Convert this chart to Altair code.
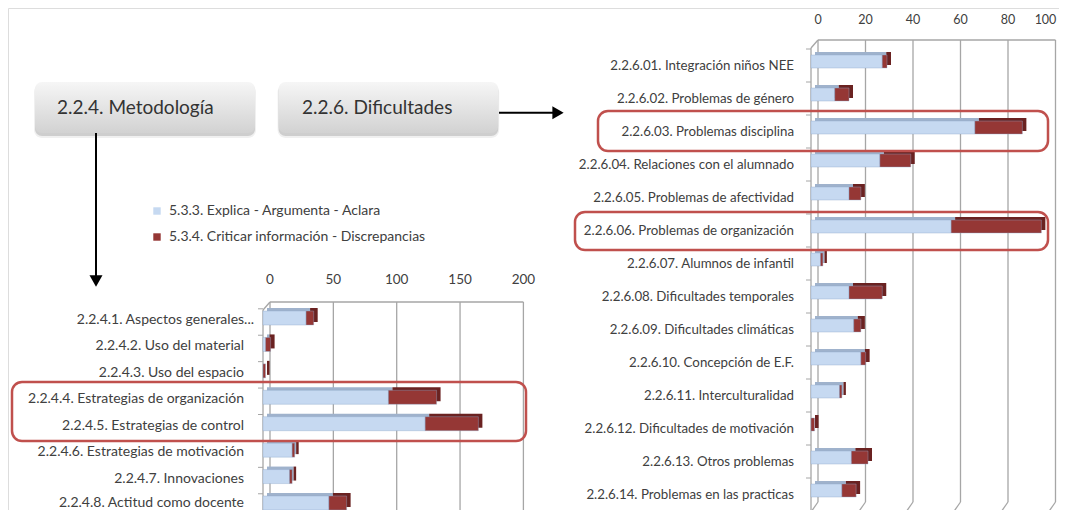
import altair as alt
import pandas as pd

# ---------------- data ----------------
left_categories = [
    "2.2.4.1. Aspectos generales...",
    "2.2.4.2. Uso del material",
    "2.2.4.3. Uso del espacio",
    "2.2.4.4. Estrategias de organización",
    "2.2.4.5. Estrategias de control",
    "2.2.4.6. Estrategias de motivación",
    "2.2.4.7. Innovaciones",
    "2.2.4.8. Actitud como docente",
]
left_explica = [34, 2, 0, 99, 128, 23, 21, 52]
left_criticar = [6, 4, 2, 38, 42, 2, 2, 14]

right_categories = [
    "2.2.6.01. Integración niños NEE",
    "2.2.6.02. Problemas de género",
    "2.2.6.03. Problemas disciplina",
    "2.2.6.04. Relaciones con el alumnado",
    "2.2.6.05. Problemas de afectividad",
    "2.2.6.06. Problemas de organización",
    "2.2.6.07. Alumnos de infantil",
    "2.2.6.08. Dificultades temporales",
    "2.2.6.09. Dificultades climáticas",
    "2.2.6.10. Concepción de E.F.",
    "2.2.6.11. Interculturalidad",
    "2.2.6.12. Dificultades de motivación",
    "2.2.6.13. Otros problemas",
    "2.2.6.14. Problemas en las practicas",
]
right_explica = [30, 10, 69, 29, 16, 59, 4, 16, 18, 21, 12, 0, 17, 13]
right_criticar = [2, 6, 20, 13, 5, 38, 1, 14, 3, 2, 1, 1.5, 7, 6]

series_names = ["5.3.3. Explica - Argumenta - Aclara",
                "5.3.4. Criticar información - Discrepancias"]
left_ticks = [0, 50, 100, 150, 200]
right_ticks = [0, 20, 40, 60, 80, 100]
box_titles = ["2.2.4. Metodología", "2.2.6. Dificultades"]

# ---------------- styles ----------------
FONT = "Lato"
TXT = "#404040"
FRONT = ["#c6d9f1", "#953735"]
SIDE = ["#9fb2cc", "#6a2221"]
GRID = "#a6a6a6"
HL = "#c0504d"
W, H = 1051, 502
DX, DY = 7, 8  # 3D depth of the walls


def segments(cats, a, b):
    rows = []
    for c, va, vb in zip(cats, a, b):
        if va > 0:
            rows.append(dict(cat=c, series=series_names[0], x0=0, x1=va, side=SIDE[0]))
        if vb > 0:
            rows.append(dict(cat=c, series=series_names[1], x0=va, x1=va + vb, side=SIDE[1]))
    return pd.DataFrame(rows)


one = pd.DataFrame({"a": [0]})
color_scale = alt.Scale(domain=series_names, range=FRONT)


def panel(cats, a, b, ticks, xdom, xrange, yrange, top, bottom, label_x,
          tick_label_y, size, label_size, tick_size, first_dx=0, label_dy=0,
          last_label_dy=0, last_tick_dx=0):
    xs = alt.Scale(domain=xdom, range=xrange, nice=False, zero=False)
    ys = alt.Scale(domain=cats, range=yrange, paddingInner=0, paddingOuter=0)
    seg = segments(cats, a, b)
    tdf = pd.DataFrame({"v": ticks, "i": list(range(len(ticks)))})
    last = len(ticks) - 1
    n = len(cats) - 1
    cdf = pd.DataFrame({"cat": cats, "i": list(range(len(cats)))})
    X = lambda f: alt.X(f, scale=xs, axis=None)
    Y = alt.Y("cat:N", scale=ys, axis=None, sort=None)
    x0 = xrange[0]
    layers = []
    # back-wall gridlines
    layers.append(alt.Chart(tdf).mark_rule(color=GRID, strokeWidth=1.3, xOffset=DX).encode(
        x=X("v:Q"), y=alt.value(top), y2=alt.value(bottom)))
    # floor slant
    layers.append(alt.Chart(tdf).mark_rule(color=GRID, strokeWidth=1.3, xOffset=DX, x2Offset=0).encode(
        x=X("v:Q"), x2="v:Q", y=alt.value(bottom), y2=alt.value(bottom + DY + 2)))
    # top edge of back wall
    layers.append(alt.Chart(one).mark_rule(color=GRID, strokeWidth=1.3).encode(
        x=alt.value(x0 + DX), x2=alt.value(xrange[1] + DX), y=alt.value(top)))
    # front-left wall edge + top slant
    layers.append(alt.Chart(one).mark_rule(color=GRID, strokeWidth=1.3).encode(
        x=alt.value(x0), y=alt.value(top + DY), y2=alt.value(bottom + DY + 2)))
    layers.append(alt.Chart(one).mark_rule(color=GRID, strokeWidth=1.3).encode(
        x=alt.value(x0), x2=alt.value(x0 + DX), y=alt.value(top + DY), y2=alt.value(top)))
    # category ticks
    layers.append(alt.Chart(cdf).mark_rule(color=GRID, strokeWidth=1).encode(
        y=alt.Y("cat:N", scale=ys, axis=None, sort=None, bandPosition=0),
        x=alt.value(x0 - 5), x2=alt.value(x0)))
    # value labels on top
    layers.append(alt.Chart(tdf).transform_filter(f"datum.i < {last}").mark_text(
        font=FONT, fontSize=tick_size, color=TXT, xOffset=DX, baseline="middle").encode(
        x=X("v:Q"), y=alt.value(tick_label_y), text="v:Q"))
    layers.append(alt.Chart(tdf).transform_filter(f"datum.i == {last}").mark_text(
        font=FONT, fontSize=tick_size, color=TXT, xOffset=DX + last_tick_dx,
        baseline="middle").encode(
        x=X("v:Q"), y=alt.value(tick_label_y), text="v:Q"))
    # category labels
    layers.append(alt.Chart(cdf).transform_filter(f"datum.i > 0 && datum.i < {n}").mark_text(
        font=FONT, fontSize=label_size, color=TXT, align="right", baseline="middle",
        dy=label_dy).encode(
        y=Y, x=alt.value(label_x), text="cat:N"))
    layers.append(alt.Chart(cdf).transform_filter(f"datum.i == {n}").mark_text(
        font=FONT, fontSize=label_size, color=TXT, align="right", baseline="middle",
        dy=label_dy + last_label_dy).encode(
        y=Y, x=alt.value(label_x), text="cat:N"))
    layers.append(alt.Chart(cdf).transform_filter("datum.i == 0").mark_text(
        font=FONT, fontSize=label_size, color=TXT, align="right", baseline="middle",
        dy=label_dy).encode(
        y=Y, x=alt.value(label_x + first_dx), text="cat:N"))
    # bar depth faces
    layers.append(alt.Chart(seg).mark_bar(size=size, xOffset=4, x2Offset=4, yOffset=-7).encode(
        x=X("x0:Q"), x2="x1:Q", y=Y, color=alt.Color("side:N", scale=None)))
    # bar front faces
    layers.append(alt.Chart(seg).mark_bar(size=size, yOffset=-4, stroke="#8fa9c9",
                                          strokeWidth=0.4).encode(
        x=X("x0:Q"), x2="x1:Q", y=Y,
        color=alt.Color("series:N", scale=color_scale,
                        legend=alt.Legend(
                            orient="none", legendX=142, legendY=196, title=None,
                            symbolType="square", symbolSize=55, symbolStrokeWidth=0,
                            labelFont=FONT, labelFontSize=14, labelColor=TXT,
                            rowPadding=12, labelOffset=5, labelLimit=400))))
    return layers


left_layers = panel(left_categories, left_explica, left_criticar, left_ticks,
                    [0, 200], [255, 508.4], [300.8, 512.2], 294, 530, 236, 272, 14,
                    14, 13.5, first_dx=10, label_dy=-2, last_label_dy=-2)
right_layers = panel(right_categories, right_explica, right_criticar, right_ticks,
                     [0, 100], [803, 1040.5], [41, 503], 32, 494, 786, 12, 13,
                     13.3, 12.5, last_tick_dx=-10)

# ---------------- decorations ----------------
deco = []
grad = alt.Gradient(gradient="linear",
                    stops=[alt.GradientStop(color="#f6f6f6", offset=0),
                           alt.GradientStop(color="#d2d2d2", offset=1)],
                    x1=0, x2=0, y1=0, y2=1)
for (bx0, bx1), title, tx in zip([(27, 247), (270.6, 490.2)], box_titles, [49, 294]):
    deco.append(alt.Chart(one).mark_rect(cornerRadius=8, color="#000", opacity=0.06).encode(
        x=alt.value(bx0 - 1), x2=alt.value(bx1 + 1), y=alt.value(76), y2=alt.value(130)))
    deco.append(alt.Chart(one).mark_rect(cornerRadius=7, color="#000", opacity=0.14).encode(
        x=alt.value(bx0), x2=alt.value(bx1), y=alt.value(76), y2=alt.value(128)))
    deco.append(alt.Chart(one).mark_rect(cornerRadius=7, color=grad).encode(
        x=alt.value(bx0), x2=alt.value(bx1), y=alt.value(74), y2=alt.value(125)))
    deco.append(alt.Chart(pd.DataFrame({"t": [title]})).mark_text(
        font=FONT, fontSize=19, color="#333333", align="left", baseline="middle").encode(
        x=alt.value(tx), y=alt.value(100), text="t:N"))

# arrows
deco.append(alt.Chart(one).mark_rule(color="black", strokeWidth=2).encode(
    x=alt.value(88), y=alt.value(125), y2=alt.value(268)))
deco.append(alt.Chart(one).mark_point(shape="triangle-down", filled=True, color="black",
                                      size=170, opacity=1).encode(
    x=alt.value(88), y=alt.value(273)))
deco.append(alt.Chart(one).mark_rule(color="black", strokeWidth=2).encode(
    x=alt.value(491), x2=alt.value(545), y=alt.value(104.7)))
deco.append(alt.Chart(one).mark_point(shape="triangle-right", filled=True, color="black",
                                      size=170, opacity=1).encode(
    x=alt.value(550), y=alt.value(104.7)))

# highlight boxes
for (hx0, hx1, hy0, hy1) in [(4, 518, 374, 433), (590, 1040, 103, 143), (567, 1040, 204, 242)]:
    deco.append(alt.Chart(one).mark_rect(cornerRadius=10, fillOpacity=0, stroke=HL,
                                         strokeWidth=2.5).encode(
        x=alt.value(hx0), x2=alt.value(hx1), y=alt.value(hy0), y2=alt.value(hy1)))

chart = alt.layer(*left_layers, *right_layers, *deco).resolve_scale(
    x="independent", y="independent"
).properties(
    width=W, height=H, padding=0, autosize=alt.AutoSizeParams(type="none")
).configure_view(stroke=None).configure(background="white")

chart.save("out.html", embed_options={"renderer": "svg", "actions": False})
